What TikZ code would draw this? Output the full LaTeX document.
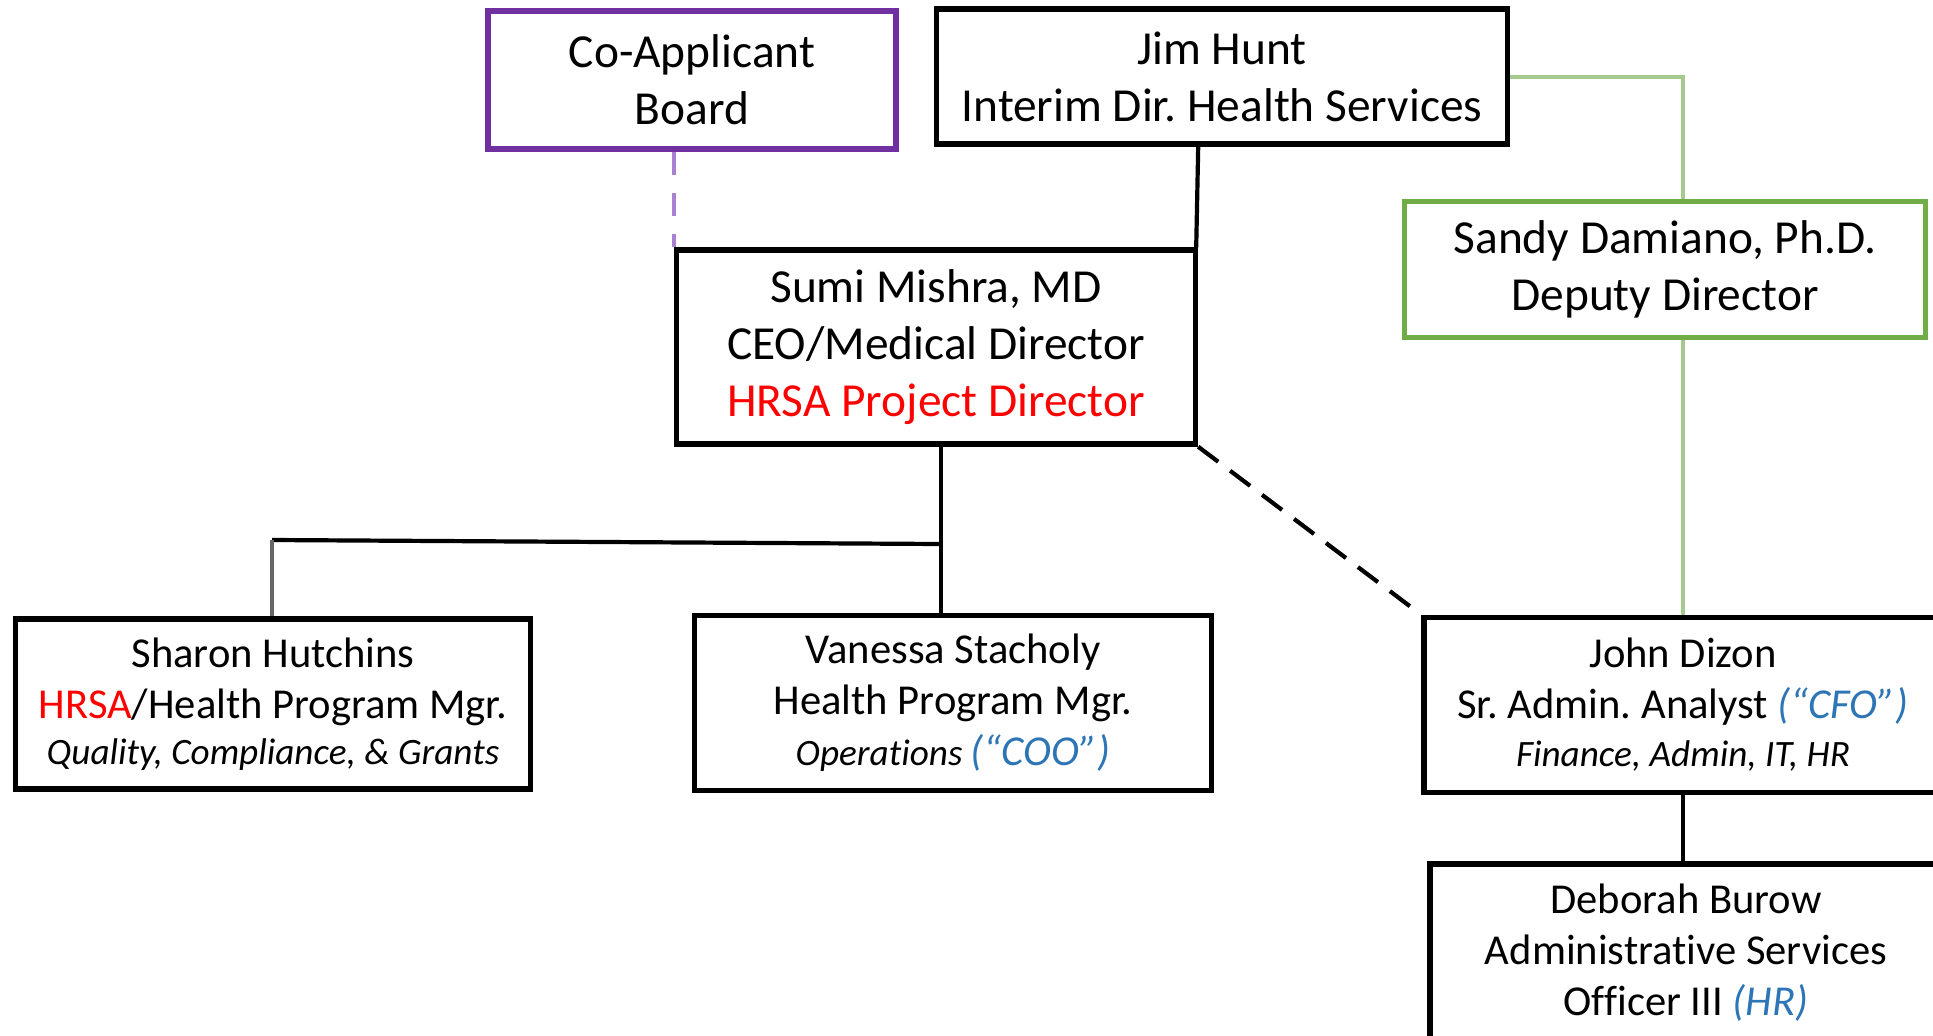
\documentclass[tikz,border=0pt]{standalone}
\usepackage{fontspec}
\setmainfont{Carlito}[Ligatures={TeX,NoCommon}]
\usetikzlibrary{calc}
\frenchspacing

\definecolor{boardpurple}{HTML}{7030A0}
\definecolor{dashpurple}{HTML}{A880D4}
\definecolor{deputygreen}{HTML}{70AD47}
\definecolor{linkgreen}{HTML}{A6C98E}
\definecolor{cxoblue}{HTML}{2E75B6}
\definecolor{hrsared}{HTML}{FF0000}

\newcommand{\bigtxt}{\fontsize{23.7}{28.5}\selectfont}
\newcommand{\midtxt}{\fontsize{21.3}{25.5}\selectfont}
\newcommand{\smalltxt}{\fontsize{18.6}{21}\selectfont\itshape}

\begin{document}
\begin{tikzpicture}[x=0.5pt,y=-0.5pt,
    box/.style={draw, line width=2.7pt, inner sep=0pt, align=center},
    link/.style={line width=2.1pt}]
        \clip (0,0) rectangle (1933,1035);

        % top row
        \node[box, draw=boardpurple, font=\bigtxt, minimum width=204pt, minimum height=69pt] (board) at (692,80) {Co-Applicant\\Board};
        \node[box, font=\bigtxt, minimum width=285.5pt, minimum height=67.5pt] (jim) at (1222,76.5) {Jim Hunt\\Interim Dir. Health Services};
        \node[box, draw=deputygreen, line width=2.5pt, font=\bigtxt, minimum width=260.5pt, minimum height=68pt] (sandy) at (1665,269) {Sandy Damiano, Ph.D.\\Deputy Director};
        \node[box, font=\bigtxt, minimum width=259.5pt, minimum height=97pt] (sumi) at (936,347) {Sumi Mishra, MD\\CEO/Medical Director\\\textcolor{hrsared}{HRSA Project Director}};

        % managers
        \node[box, font=\midtxt, minimum width=257.5pt, minimum height=85pt] (sharon) at (273,704) {Sharon Hutchins\\\textcolor{hrsared}{HRSA}/Health Program Mgr.\\[-2.5pt]{\smalltxt Quality, Compliance, \& Grants}};
        \node[box, font=\midtxt, minimum width=258.5pt, minimum height=87.5pt] (vanessa) at (953,703) {Vanessa Stacholy\\Health Program Mgr.\\{\smalltxt Operations \textcolor{cxoblue}{\fontsize{21.3}{25.5}\selectfont(“COO”)}}};
        \node[box, font=\midtxt, minimum width=259pt, minimum height=87.5pt] (john) at (1683,705) {John Dizon\\Sr. Admin. Analyst \textcolor{cxoblue}{\itshape(“CFO”)}\\[-1.5pt]{\smalltxt Finance, Admin, IT, HR}};
        \node[box, font=\midtxt, minimum width=256pt, minimum height=89pt] (deborah) at (1686,953) {Deborah Burow\\Administrative Services\\Officer III \textcolor{cxoblue}{\itshape(HR)}};

        \coordinate (split) at (941,544);
        \coordinate (elbow) at (272,540);

        \draw[link, dashpurple, dash pattern=on 11.5pt off 9pt] (sumi.north west |- board.south) -- (sumi.north west);
        \draw[link] (jim.south -| sumi.north east) -- ([xshift=-1pt]sumi.north east);
        \draw[link, linkgreen, line width=2pt] (jim.east) -| (john.north |- sandy.north);
        \draw[link, linkgreen, line width=2pt] (sandy.south -| john.north) -- (john.north);

        \draw[link] (sumi.south -| split) -- (split |- vanessa.north);
        \draw[link] (split) -- (elbow);
        \draw[link, black!60] (elbow) -- (elbow |- sharon.north);
        \draw[link, dash pattern=on 12.5pt off 7.5pt] (sumi.south east) -- (john.north west);
        \draw[link] (john.south) -- (john.south |- deborah.north);
\end{tikzpicture}
\end{document}
